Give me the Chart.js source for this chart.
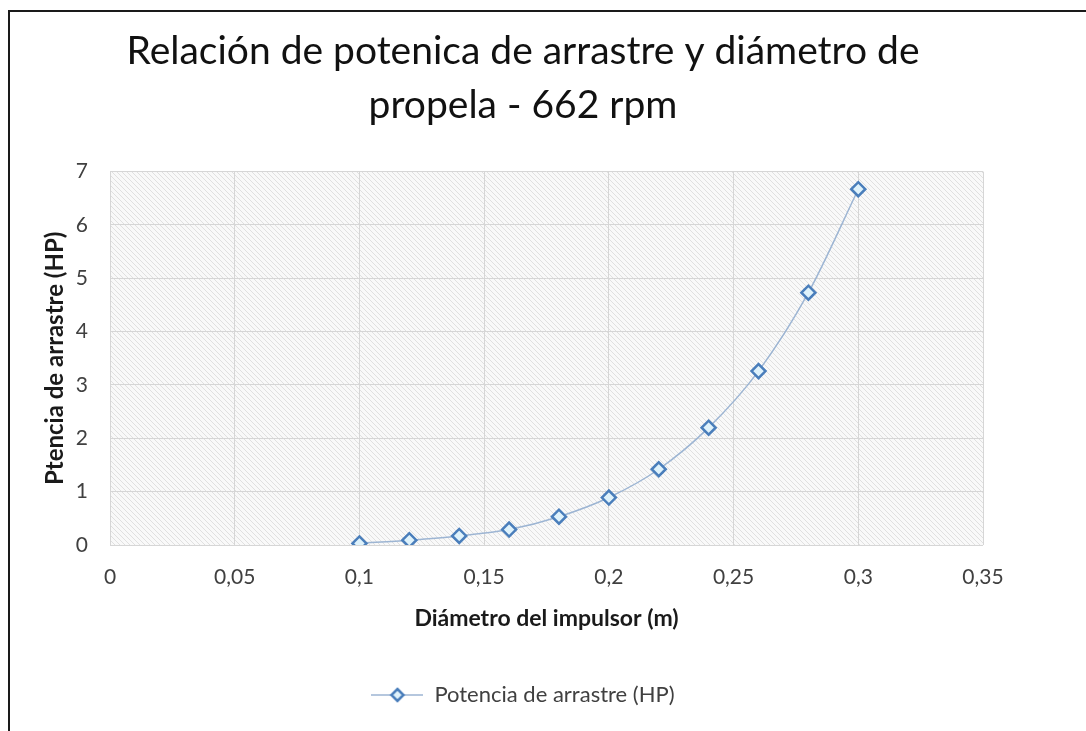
<!DOCTYPE html>
<html>
<head>
<meta charset="utf-8">
<script src="https://cdn.jsdelivr.net/npm/chart.js@4.4.1/dist/chart.umd.min.js"></script>
<style>
    html, body { margin: 0; padding: 0; background: #fff; }
    #frame {
        position: absolute; left: 8px; top: 10px; width: 1100px; height: 740px;
        border-top: 2px solid #1a1a1a; border-left: 2px solid #1a1a1a;
    }
    #wrap { position: absolute; left: 0; top: 0; width: 1086px; height: 731px; }
</style>
</head>
<body>
<div id="frame"></div>
<div id="wrap"><canvas id="chart" width="1086" height="731"></canvas></div>
<script>
const diametros = [0.1, 0.12, 0.14, 0.16, 0.18, 0.2, 0.22, 0.24, 0.26, 0.28, 0.3];
const potencia = [0.03, 0.09, 0.17, 0.29, 0.53, 0.89, 1.42, 2.20, 3.26, 4.73, 6.67];
const titleLines = ['Relación de potenica de arrastre y diámetro de', 'propela - 662 rpm'];
const xTitle = 'Diámetro del impulsor (m)';
const yTitle = 'Ptencia de arrastre (HP)';
const seriesLabel = 'Potencia de arrastre (HP)';

const lineColor = '#9db5d3';
const markerBorder = '#4a7ebb';
const markerFill = '#dff2fb';
const fontFamily = "Lato, 'Open Sans', sans-serif";

// hatched plot background
function makeHatch() {
    const c = document.createElement('canvas');
    c.width = 5; c.height = 5;
    const g = c.getContext('2d');
    g.fillStyle = '#f9f9f9';
    g.fillRect(0, 0, 5, 5);
    g.strokeStyle = '#e0e0e0';
    g.lineWidth = 1;
    g.beginPath();
    g.moveTo(-1, -1); g.lineTo(6, 6);
    g.moveTo(-1, 4); g.lineTo(1, 6);
    g.moveTo(4, -1); g.lineTo(6, 1);
    g.stroke();
    return c;
}

// legend icon: line with diamond
function makeLegendIcon() {
    const c = document.createElement('canvas');
    c.width = 52; c.height = 18;
    const g = c.getContext('2d');
    g.strokeStyle = lineColor;
    g.lineWidth = 1.5;
    g.beginPath();
    g.moveTo(0, 9); g.lineTo(52, 9);
    g.stroke();
    g.beginPath();
    g.moveTo(26, 3); g.lineTo(32, 9); g.lineTo(26, 15); g.lineTo(20, 9); g.closePath();
    g.fillStyle = markerFill;
    g.fill();
    g.strokeStyle = markerBorder;
    g.lineWidth = 2.5;
    g.stroke();
    return c;
}

const hatchCanvas = makeHatch();
const legendIcon = makeLegendIcon();

const plotBackground = {
    id: 'plotBackground',
    beforeDraw(chart) {
        const {ctx, chartArea: a} = chart;
        ctx.save();
        ctx.fillStyle = ctx.createPattern(hatchCanvas, 'repeat');
        ctx.fillRect(a.left, a.top, a.right - a.left, a.bottom - a.top);
        ctx.restore();
    }
};

new Chart(document.getElementById('chart'), {
    type: 'line',
    data: {
        datasets: [{
            label: seriesLabel,
            data: diametros.map((d, i) => ({x: d, y: potencia[i]})),
            borderColor: lineColor,
            borderWidth: 1.5,
            cubicInterpolationMode: 'monotone',
            pointStyle: 'rectRot',
            pointRadius: 7,
            pointBorderWidth: 2.5,
            pointBorderColor: markerBorder,
            pointBackgroundColor: markerFill,
            fill: false
        }]
    },
    options: {
        responsive: false,
        animation: false,
        layout: { padding: { left: 63, right: 103, top: 0, bottom: 15 } },
        scales: {
            x: {
                type: 'linear',
                min: 0,
                max: 0.35,
                afterFit: s => { s.height = 129; },
                ticks: {
                    stepSize: 0.05,
                    padding: 20,
                    color: '#404040',
                    font: { family: fontFamily, size: 21 },
                    callback: v => String(Math.round(v * 100) / 100).replace('.', ',')
                },
                grid: { color: '#d6d6d6', drawTicks: false },
                border: { display: false },
                title: {
                    display: true,
                    text: xTitle,
                    color: '#1a1a1a',
                    font: { family: fontFamily, size: 23, weight: 'bold' },
                    padding: { top: 0, bottom: 42 }
                }
            },
            y: {
                min: 0,
                max: 7,
                afterFit: s => { s.width = 47; },
                ticks: {
                    stepSize: 1,
                    padding: 22,
                    color: '#404040',
                    font: { family: fontFamily, size: 21 }
                },
                grid: { color: '#d6d6d6', drawTicks: false },
                border: { display: false },
                title: {
                    display: true,
                    text: yTitle,
                    color: '#1a1a1a',
                    font: { family: fontFamily, size: 24, weight: 'bold' },
                    padding: { top: -22, bottom: 0 }
                }
            }
        },
        plugins: {
            title: {
                display: true,
                text: titleLines,
                color: '#111',
                font: { family: fontFamily, size: 39, weight: 'normal', lineHeight: 1.367 },
                padding: { top: 25, bottom: 40 }
            },
            legend: {
                position: 'bottom',
                labels: {
                    usePointStyle: true,
                    pointStyle: legendIcon,
                    pointStyleWidth: 52,
                    boxHeight: 18,
                    padding: 10,
                    color: '#404040',
                    font: { family: fontFamily, size: 22 }
                }
            },
            tooltip: { enabled: false }
        }
    },
    plugins: [plotBackground]
});
</script>
</body>
</html>
